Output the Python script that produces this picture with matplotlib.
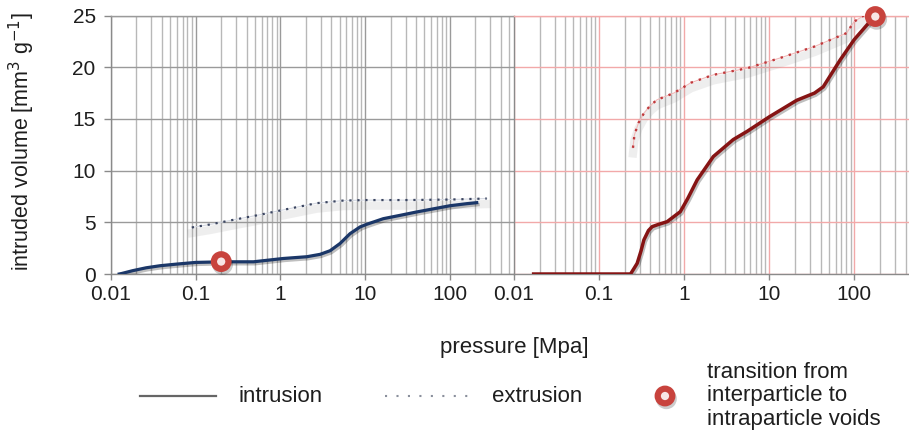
import numpy as np
import matplotlib
matplotlib.use("Agg")
import matplotlib.pyplot as plt
from matplotlib.lines import Line2D
from matplotlib.ticker import FixedLocator, FixedFormatter, LogLocator, NullFormatter
import matplotlib.patheffects as pe

plt.rcParams['font.family'] = ['Liberation Sans', 'DejaVu Sans']

# ---------------- data ----------------
x_ticks = [0.01, 0.1, 1, 10, 100]
x_tick_labels = ['0.01', '0.1', '1', '10', '100']
y_ticks = [0, 5, 10, 15, 20, 25]

# left sample (blue)
left_intr_p = [0.0125, 0.0134, 0.018, 0.026, 0.038, 0.06, 0.10, 0.21, 0.48, 1.08, 2.05, 2.94,
               3.86, 5.06, 6.64, 8.71, 10.4, 16.4, 25.8, 40.6, 63.8, 100, 158, 208]
left_intr_v = [0, 0.05, 0.32, 0.6, 0.8, 0.96, 1.12, 1.18, 1.18, 1.5, 1.67, 1.9,
               2.25, 2.95, 3.9, 4.55, 4.8, 5.35, 5.67, 6.0, 6.3, 6.6, 6.8, 6.9]
left_extr_p = [0.09, 0.15, 0.28, 0.55, 1.08, 2.68, 5.5, 10.4, 30, 100, 273]
left_extr_v = [4.5, 4.8, 5.24, 5.7, 6.2, 6.85, 7.1, 7.15, 7.15, 7.2, 7.3]
left_transition_p = [0.2]
left_transition_v = [1.2]

# right sample (red)
right_intr_p = [0.017, 0.234, 0.26, 0.28, 0.31, 0.336, 0.38, 0.42, 0.5, 0.63, 0.9, 1.1, 1.42,
                2.2, 3.77, 5.5, 10, 21, 34, 43, 68, 99, 148, 176]
right_intr_v = [0, 0, 0.6, 1.03, 2.2, 3.3, 4.2, 4.58, 4.8, 5.06, 6.03, 7.3, 9.1,
                11.36, 13.0, 13.8, 15.2, 16.8, 17.5, 18.1, 20.7, 22.65, 24.3, 24.9]
right_extr_p = [0.25, 0.26, 0.29, 0.336, 0.40, 0.48, 0.755, 1.2, 2.2, 5.5, 13.5, 34, 81, 99, 129, 176]
right_extr_v = [12.2, 13.45, 14.6, 15.55, 16.3, 16.85, 17.5, 18.5, 19.26, 19.9, 20.9, 22.0,
                23.3, 24.4, 25.0, 24.9]
right_transition_p = [176]
right_transition_v = [24.9]

# ---------------- styling ----------------
W, H = 909, 437
fig = plt.figure(figsize=(W / 100, H / 100), dpi=100)

TXT = '#1e1e1e'
GRID_MAJ = '#9a9a9a'
GRID_MIN = '#b8b8b8'
PINK = '#f2a9a9'
SPINE = '#8a8a8a'
BLUE = '#1b3768'
RED = '#861414'
RING = '#c8433d'
RING_FACE = '#f8e6e6'

y_bot, y_top = 274, 15.5
axL = fig.add_axes([111 / W, 1 - y_bot / H, (514 - 111) / W, (y_bot - y_top) / H])
axR = fig.add_axes([514 / W, 1 - y_bot / H, (909 - 514) / W, (y_bot - y_top) / H])

for ax, xmax in ((axL, 573), (axR, 438)):
    ax.set_xscale('log')
    ax.set_xlim(0.01, xmax)
    ax.set_ylim(0, 25)
    ax.xaxis.set_major_locator(FixedLocator(x_ticks))
    ax.xaxis.set_major_formatter(FixedFormatter(x_tick_labels))
    ax.xaxis.set_minor_locator(LogLocator(base=10, subs=np.arange(2, 10), numticks=30))
    ax.xaxis.set_minor_formatter(NullFormatter())
    ax.set_yticks(y_ticks)
    ax.tick_params(axis='x', which='major', length=4, width=1, color=SPINE,
                   labelsize=15, labelcolor=TXT, pad=4)
    ax.tick_params(axis='x', which='minor', length=0)
    ax.set_axisbelow(True)
    for s in ax.spines.values():
        s.set_color(SPINE)
        s.set_linewidth(1.0)
    ax.spines['right'].set_visible(False)

# left panel grid
axL.tick_params(axis='y', length=5, width=1, color=SPINE, labelsize=15, labelcolor=TXT, pad=6)
axL.grid(which='major', axis='both', color=GRID_MAJ, lw=1.0)
axL.grid(which='minor', axis='x', color=GRID_MIN, lw=1.0)
axL.spines['top'].set_color(GRID_MAJ)

# right panel grid
axR.tick_params(axis='y', length=0, labelleft=False)
axR.grid(which='minor', axis='x', color=GRID_MIN, lw=1.0, zorder=0)
axR.grid(which='major', axis='both', color=PINK, lw=1.0, zorder=1)
axR.spines['top'].set_color(PINK)

shadow = [pe.SimpleLineShadow(offset=(1, -1.5), shadow_color='k', alpha=0.25), pe.Normal()]
soft_shadow = [pe.SimpleLineShadow(offset=(0, -4), shadow_color='0.55', alpha=0.14, linewidth=6),
               pe.Normal()]

# left curves
axL.plot(left_extr_p, left_extr_v, color='#d5d9e2', lw=0.8, path_effects=soft_shadow, zorder=3)
axL.plot(left_extr_p, left_extr_v, color='#3b4560', lw=1.6, ls=(0, (1, 2.6)), zorder=4)
axL.plot(left_intr_p, left_intr_v, color=BLUE, lw=2.3, path_effects=shadow, zorder=5)

# right curves
axR.plot(right_extr_p, right_extr_v, color='#f1b9b9', lw=0.8, path_effects=soft_shadow, zorder=3)
axR.plot(right_extr_p, right_extr_v, color='#c0393c', lw=1.7, ls=(0, (1, 2.6)), zorder=4)
axR.plot(right_intr_p, right_intr_v, color=RED, lw=2.5, path_effects=shadow, zorder=5)

ring_fx = [pe.SimpleLineShadow(offset=(1, -2), shadow_color='k', alpha=0.2), pe.Normal()]
mk = dict(marker='o', ms=10.5, mew=4.5, mec=RING, mfc=RING_FACE, ls='none', zorder=6,
          clip_on=False, path_effects=ring_fx)
axL.plot(left_transition_p, left_transition_v, **mk)
axR.plot(right_transition_p, right_transition_v, **mk)

# axis labels
fig.text(22 / W, 1 - 142 / H, 'intruded volume [mm$^3$ g$^{-1}$]', rotation=90,
         ha='center', va='center', fontsize=15.5, color=TXT)
fig.text(514 / W, 1 - 347 / H, 'pressure [Mpa]', ha='center', va='center',
         fontsize=16, color=TXT)

# legend (manual)
ly = 1 - 396 / H
fig.add_artist(Line2D([140 / W, 216 / W], [ly, ly], transform=fig.transFigure,
                      color='#666666', lw=1.6))
fig.text(238 / W, ly, 'intrusion', ha='left', va='center', fontsize=16, color=TXT)
fig.add_artist(Line2D([385 / W, 470 / W], [ly, ly], transform=fig.transFigure,
                      color='#8a8f9c', lw=1.5, ls=(0, (1, 4.5))))
fig.text(492 / W, ly, 'extrusion', ha='left', va='center', fontsize=16, color=TXT)
fig.add_artist(Line2D([665 / W], [ly], transform=fig.transFigure, marker='o', ms=10.5, mew=4.5,
                      mec=RING, mfc=RING_FACE, ls='none', path_effects=ring_fx))
fig.text(707 / W, 1 - 396 / H, 'transition from\ninterparticle to\nintraparticle voids',
         ha='left', va='center', fontsize=16, color=TXT, linespacing=1.15)

fig.savefig('out.png', dpi=100)
